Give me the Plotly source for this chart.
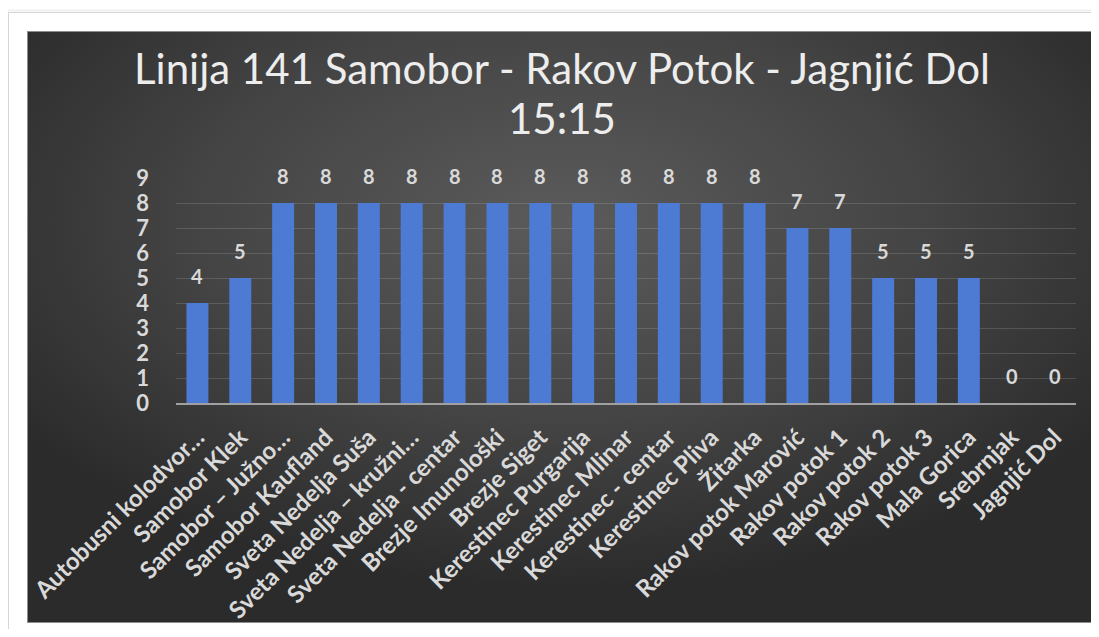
import base64
import plotly.graph_objects as go

categories = [
    "Autobusni kolodvor…", "Samobor Klek", "Samobor – Južno…", "Samobor Kaufland",
    "Sveta Nedelja Suša", "Sveta Nedelja – kružni…", "Sveta Nedelja - centar",
    "Brezje Imunološki", "Brezje Siget", "Kerestinec Purgarija", "Kerestinec Mlinar",
    "Kerestinec - centar", "Kerestinec Pliva", "Žitarka", "Rakov potok Marović",
    "Rakov potok 1", "Rakov potok 2", "Rakov potok 3", "Mala Gorica", "Srebrnjak",
    "Jagnjić Dol",
]
values = [4, 5, 8, 8, 8, 8, 8, 8, 8, 8, 8, 8, 8, 8, 7, 7, 5, 5, 5, 0, 0]
title_line1 = "Linija 141 Samobor - Rakov Potok - Jagnjić Dol"
title_line2 = "15:15"

# page body has an 8px margin, so the figure is drawn 8px in and 8px down
W, H = 1091, 621
FONT = "Lato"

svg = f'''<svg xmlns="http://www.w3.org/2000/svg" width="{W}" height="{H}" viewBox="0 0 {W} {H}">
<defs>
<radialGradient id="g" cx="0.5" cy="0.32" r="0.62" gradientUnits="objectBoundingBox">
<stop offset="0" stop-color="#5b5b5b"/>
<stop offset="0.55" stop-color="#444444"/>
<stop offset="1" stop-color="#2b2b2b"/>
</radialGradient>
</defs>
<rect x="0" y="0" width="{W}" height="{H}" fill="#ffffff"/>
<rect x="-1.5" y="2.5" width="1100" height="640" fill="none" stroke="#f0f0f0" stroke-width="2"/>
<rect x="0.5" y="4.5" width="1100" height="640" fill="#ffffff" stroke="#d6d6d6" stroke-width="1"/>
<rect x="19.5" y="23.5" width="1069" height="591" fill="url(#g)" stroke="#8c8c8c" stroke-width="1"/>
</svg>'''
bg_src = "data:image/svg+xml;base64," + base64.b64encode(svg.encode("utf-8")).decode("ascii")

fig = go.Figure()
fig.add_trace(go.Bar(
    x=categories, y=values,
    marker=dict(color="#4d7ad3", line=dict(width=0)),
    hoverinfo="skip",
))

annotations = []
for c, v in zip(categories, values):
    annotations.append(dict(
        x=c, y=v, xref="x", yref="y", text=str(v), showarrow=False,
        yanchor="bottom", yshift=13,
        font=dict(family=FONT, size=20, color="#d9d9d9", weight="bold"),
    ))
for txt, ypx in [(title_line1, 60), (title_line2, 110)]:
    annotations.append(dict(
        x=553.5 / W, y=1 - ypx / H, xref="paper", yref="paper",
        text=txt, showarrow=False,
        xanchor="center", yanchor="middle", align="center",
        font=dict(family=FONT, size=42, color="#ededed"),
    ))

fig.update_layout(
    width=W, height=H,
    margin=dict(l=0, r=0, t=0, b=0, pad=0),
    paper_bgcolor="#ffffff",
    plot_bgcolor="rgba(0,0,0,0)",
    showlegend=False,
    bargap=0.487,
    images=[dict(source=bg_src, xref="paper", yref="paper", x=0, y=1,
                 sizex=1, sizey=1, xanchor="left", yanchor="top",
                 sizing="stretch", layer="below")],
    annotations=annotations,
    xaxis=dict(
        domain=[168 / W, 1068 / W], automargin=False,
        tickangle=-45, showgrid=False, showline=True,
        linecolor="#a0a0a0", linewidth=1.5,
        tickfont=dict(family=FONT, size=24, color="#d9d9d9", weight="bold"),
        ticks="", ticklabelstandoff=9,
    ),
    yaxis=dict(
        domain=[(H - 395) / H, (H - 170) / H], automargin=False,
        range=[0, 9], dtick=1, tick0=0,
        showgrid=True, gridcolor="rgba(255,255,255,0.14)", gridwidth=1,
        zeroline=False, showline=False, ticks="",
        ticklabelstandoff=26,
        tickfont=dict(family=FONT, size=22, color="#d9d9d9", weight="bold"),
    ),
)

fig.write_html("out.html")
